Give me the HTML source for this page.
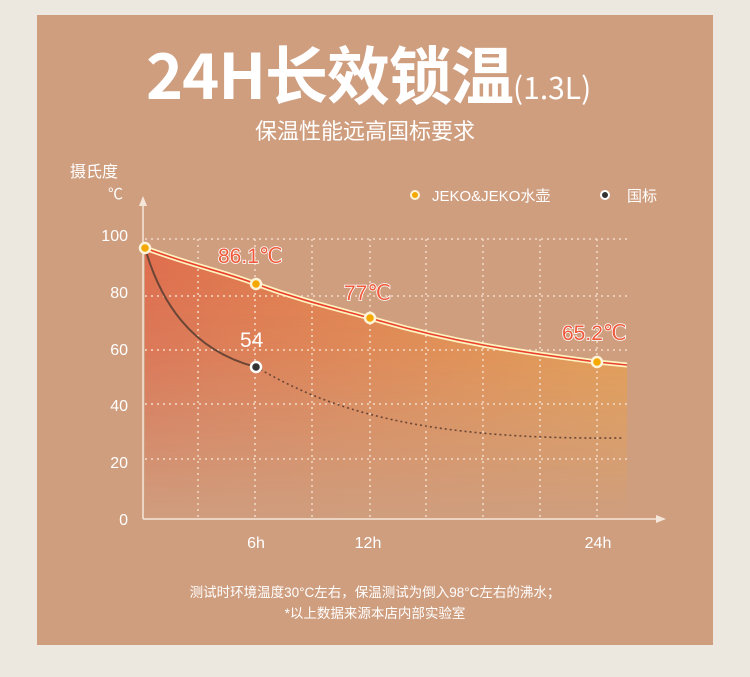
<!DOCTYPE html>
<html><head><meta charset="utf-8"><style>
body{margin:0;width:750px;height:677px;background:#ede8df;overflow:hidden;position:relative;font-family:"Liberation Sans","Noto Sans CJK SC",sans-serif}
.panel{position:absolute;left:37px;top:15px;width:676px;height:630px;background:#cf9e7f}
.t{position:absolute;color:#fff;white-space:nowrap}
</style></head><body>
<div class="panel"></div>
<div class="t" style="left:146px;top:27px;font-size:63px;font-weight:bold;letter-spacing:-1px;font-family:'Noto Sans CJK SC',sans-serif">24H长效锁温<span style="font-size:30px;font-weight:normal;letter-spacing:0">(1.3L)</span></div>
<div class="t" style="left:255px;top:114px;font-size:22px;font-family:'Noto Sans CJK SC',sans-serif">保温性能远高国标要求</div>
<div class="t" style="left:70px;top:158px;font-size:16px">摄氏度</div>
<div class="t" style="left:108px;top:183px;font-size:15px">℃</div>
<svg style="position:absolute;left:0;top:0" width="750" height="677">
<defs>
<linearGradient id="g" x1="0" y1="0" x2="1" y2="0"><stop offset="0" stop-color="#e06a4a"/><stop offset="1" stop-color="#eba04a"/></linearGradient>
<linearGradient id="f" x1="0" y1="0" x2="0" y2="1"><stop offset="0" stop-color="#fff" stop-opacity="1"/><stop offset="0.4" stop-color="#fff" stop-opacity="0.75"/><stop offset="1" stop-color="#fff" stop-opacity="0"/></linearGradient>
<mask id="m"><rect x="0" y="240" width="750" height="280" fill="url(#f)"/></mask>
</defs>
<path d="M145,248 C190,265 225,272 256,284 C300,300 330,307 370,318 C450,342 520,352 597,362 L627,365 L627,519 L145,519 Z" fill="url(#g)" mask="url(#m)" opacity="0.95"/>
<g stroke="#f3dcc8" stroke-width="1.5" stroke-dasharray="2,4" fill="none">
<line x1="145" y1="239" x2="628" y2="239"/><line x1="145" y1="296" x2="628" y2="296"/><line x1="145" y1="350" x2="628" y2="350"/><line x1="145" y1="404" x2="628" y2="404"/><line x1="145" y1="459" x2="628" y2="459"/>
<line x1="198" y1="239" x2="198" y2="518"/><line x1="255" y1="239" x2="255" y2="518"/><line x1="312" y1="239" x2="312" y2="518"/><line x1="370" y1="239" x2="370" y2="518"/><line x1="426" y1="239" x2="426" y2="518"/><line x1="483" y1="239" x2="483" y2="518"/><line x1="540" y1="239" x2="540" y2="518"/><line x1="597" y1="239" x2="597" y2="518"/>
</g>
<g stroke="#f5e6da" stroke-width="1.5" fill="none">
<line x1="143" y1="200" x2="143" y2="519"/><line x1="143" y1="519" x2="662" y2="519"/>
</g>
<path d="M139,206 L143,196 L147,206Z M656,515 L666,519 L656,523Z" fill="#f5e6da"/>
<path d="M145,248 C160,300 190,350 256,367" stroke="#6b4535" stroke-width="2" fill="none"/>
<path d="M256,367 C330,410 420,440 622,438" stroke="#6b4535" stroke-width="1.6" stroke-dasharray="2,3" fill="none"/>
<path d="M145,248 C190,265 225,272 256,284 C300,300 330,307 370,318 C450,342 520,352 597,362 L627,365" stroke="#fff3c0" stroke-width="5" fill="none"/>
<path d="M145,248 C190,265 225,272 256,284 C300,300 330,307 370,318 C450,342 520,352 597,362 L627,365" stroke="#e8402c" stroke-width="1.6" fill="none"/>
<g fill="#f5a800" stroke="#fff3d8" stroke-width="2.5">
<circle cx="145" cy="248" r="5"/><circle cx="256" cy="284" r="5"/><circle cx="370" cy="318" r="5"/><circle cx="597" cy="362" r="5"/>
</g>
<circle cx="256" cy="367" r="5" fill="#333" stroke="#fff" stroke-width="2.5"/>
<circle cx="415" cy="195" r="4" fill="#f5a800" stroke="#fff3d8" stroke-width="2"/>
<circle cx="605" cy="195" r="4" fill="#333" stroke="#fff" stroke-width="2"/>
<g font-family="Liberation Sans,sans-serif" font-size="21" fill="#f05a3a" stroke="#fff" stroke-width="1.6" paint-order="stroke">
<text x="218" y="263">86.1℃</text><text x="344" y="300">77℃</text><text x="562" y="340">65.2℃</text>
</g>
<text x="240" y="347" font-family="Liberation Sans,sans-serif" font-size="21" fill="#fff">54</text>
<g font-family="Liberation Sans,sans-serif" font-size="16" fill="#fff" text-anchor="end">
<text x="128" y="241">100</text><text x="128" y="298">80</text><text x="128" y="355">60</text><text x="128" y="411">40</text><text x="128" y="468">20</text><text x="128" y="525">0</text>
</g>
<g font-family="Liberation Sans,sans-serif" font-size="16" fill="#fff" text-anchor="middle">
<text x="256" y="548">6h</text><text x="368" y="548">12h</text><text x="598" y="548">24h</text>
</g>
<text x="432" y="201" font-family="Liberation Sans,'Noto Sans CJK SC',sans-serif" font-size="15" fill="#fff">JEKO&amp;JEKO水壶</text>
<text x="627" y="201" font-family="'Noto Sans CJK SC',sans-serif" font-size="15" fill="#fff">国标</text>
<g font-family="Liberation Sans,'Noto Sans CJK SC',sans-serif" font-size="13.5" fill="#fff" text-anchor="middle">
<text x="375" y="597">测试时环境温度30°C左右，保温测试为倒入98°C左右的沸水；</text>
<text x="375" y="618">*以上数据来源本店内部实验室</text>
</g>
</svg>
</body></html>
